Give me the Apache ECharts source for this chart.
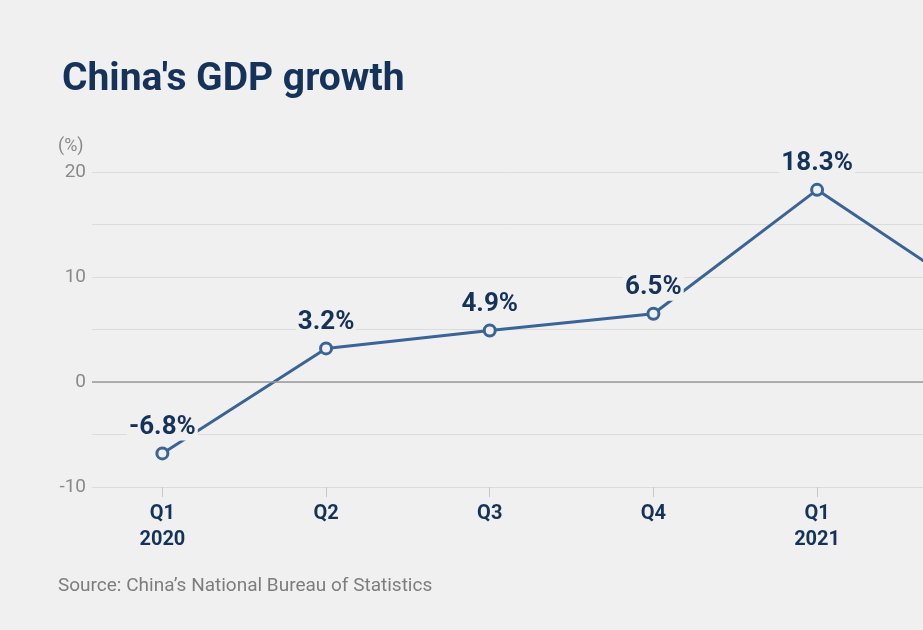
<!DOCTYPE html>
<html>
<head>
<meta charset="utf-8">
<script src="https://cdn.jsdelivr.net/npm/echarts@6/dist/echarts.min.js"></script>
<style>
  html, body { margin: 0; padding: 0; background: #f0f0f0; }
  #chart { width: 923px; height: 630px; }
</style>
</head>
<body>
<div id="chart"></div>
<script>
var quarters = ['Q1\n2020', 'Q2', 'Q3', 'Q4', 'Q1\n2021', 'Q2'];
var growth = [-6.8, 3.2, 4.9, 6.5, 18.3, 7.9];
var yTicks = [-10, 0, 10, 20];

var navy = '#14325a';
var lineBlue = '#3a6496';
var bg = '#f0f0f0';

var myChart = echarts.init(document.getElementById('chart'));

myChart.setOption({
  backgroundColor: bg,
  animation: false,
  textStyle: { fontFamily: 'Roboto' },
  title: {
    text: "China's GDP growth",
    left: 57,
    top: 56,
    textStyle: { color: navy, fontSize: 39, fontWeight: 'bold', fontFamily: 'Roboto' }
  },
  graphic: [
    {
      type: 'text', left: 58, top: 137,
      style: { text: '(%)', fill: '#8a8a8a', fontSize: 18, fontFamily: 'Roboto' }
    },
    {
      type: 'text', left: 58, top: 577,
      style: { text: 'Source: China\u2019s National Bureau of Statistics', fill: '#7d7d7d', fontSize: 19, fontFamily: 'Roboto' }
    }
  ],
  grid: { left: 92, right: 0, top: 172, bottom: 143 },
  xAxis: {
    type: 'value',
    min: -0.43,
    max: 4.647,
    splitLine: { show: false },
    axisLine: { show: true, onZero: false, lineStyle: { color: '#dcdcdc', width: 1 } },
    axisTick: {
      show: true, length: 10, customValues: [0, 1, 2, 3, 4],
      lineStyle: { color: '#c8c8c8' }
    },
    axisLabel: {
      customValues: [0, 1, 2, 3, 4],
      margin: 14,
      color: navy, fontSize: 20, fontWeight: 'bold', lineHeight: 26,
      formatter: function (v) { return quarters[Math.round(v)]; }
    }
  },
  yAxis: {
    type: 'value',
    min: -10, max: 20, interval: 5,
    axisLine: { show: false },
    axisTick: { show: false },
    splitLine: { lineStyle: { color: '#dcdcdc', width: 1 } },
    axisLabel: {
      color: '#8a8a8a', fontSize: 19, margin: 6,
      formatter: function (v) { return yTicks.indexOf(v) >= 0 ? String(v) : ''; }
    }
  },
  series: [{
    type: 'line',
    data: growth.map(function (v, i) { return [i, v]; }),
    clip: true,
    lineStyle: { color: lineBlue, width: 3 },
    itemStyle: { color: bg, borderColor: lineBlue, borderWidth: 3 },
    symbol: 'circle',
    symbolSize: 11,
    label: {
      show: true, position: 'top', distance: 6,
      color: navy, fontSize: 26, fontWeight: 'bold',
      backgroundColor: bg, padding: [0, 2],
      formatter: function (p) { return p.value[1] + '%'; }
    },
    markLine: {
      silent: true, symbol: 'none', label: { show: false },
      lineStyle: { color: '#9a9a9a', type: 'solid', width: 1.5 },
      data: [{ yAxis: 0 }]
    },
    z: 3
  }]
});
</script>
</body>
</html>
